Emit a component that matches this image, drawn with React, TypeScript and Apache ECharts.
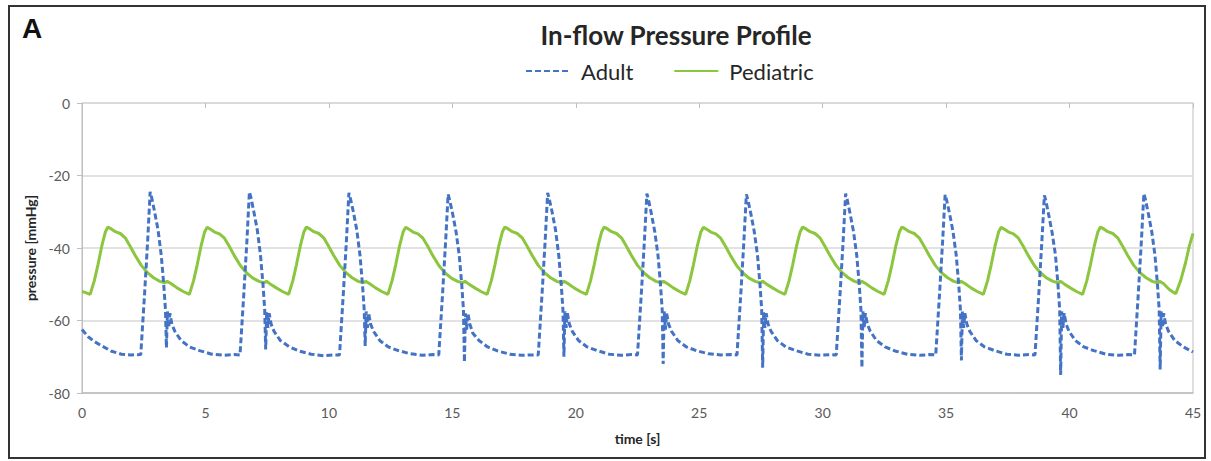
import React, { useEffect, useRef } from "react";
import * as echarts from "echarts";

const chartTitle = "In-flow Pressure Profile";
const panelLabel = "A";
const seriesNames = ["Adult", "Pediatric"];
const xAxisName = "time [s]";
const yAxisName = "pressure [mmHg]";
const xRange = [0, 45];
const yRange = [-80, 0];

// Adult in-flow pressure [time s, pressure mmHg]
const adultData: [number, number][] = [
  [0, -62.5], [0.25, -64.5], [0.5, -65.8], [0.8, -67], [1.2, -68.5], [1.6, -69.3], [2.0, -69.5], [2.38, -69.4],
  [2.54, -52], [2.66, -38], [2.76, -24.5], [2.82, -26], [2.94, -30], [3.08, -35], [3.21, -42], [3.31, -50], [3.38, -57], [3.42, -67.5], [3.46, -57.5], [3.51, -62], [3.56, -58], [3.64, -61], [3.76, -63], [4.01, -65.5], [4.36, -67.3], [4.76, -68.3], [5.26, -69.3], [5.76, -69.6], [6.16, -69.4], [6.40, -69.5],
  [6.56, -52], [6.68, -38], [6.78, -24.5], [6.84, -26], [6.96, -30], [7.10, -35], [7.23, -42], [7.33, -50], [7.40, -57], [7.44, -68], [7.48, -57.5], [7.53, -62], [7.58, -58], [7.66, -61], [7.78, -63], [8.03, -65.5], [8.38, -67.2], [8.78, -68.4], [9.28, -69.3], [9.78, -69.7], [10.18, -69.5], [10.43, -69.5],
  [10.59, -52], [10.71, -38], [10.81, -24.8], [10.87, -26.3], [10.99, -30], [11.13, -35], [11.26, -42], [11.36, -50], [11.43, -57], [11.47, -67], [11.51, -57.5], [11.56, -62], [11.61, -58], [11.69, -61], [11.81, -63], [12.06, -65.5], [12.41, -67.3], [12.81, -68.3], [13.31, -69.2], [13.81, -69.6], [14.21, -69.4], [14.45, -69.5],
  [14.61, -52], [14.73, -38], [14.83, -25.2], [14.89, -26.7], [15.01, -30.5], [15.15, -35.5], [15.28, -42], [15.38, -50], [15.45, -57], [15.49, -71.5], [15.53, -58], [15.58, -62.5], [15.63, -58], [15.71, -61], [15.83, -63.5], [16.08, -65.5], [16.43, -67.3], [16.83, -68.4], [17.33, -69.3], [17.83, -69.6], [18.23, -69.5], [18.48, -69.5],
  [18.64, -52], [18.76, -38], [18.86, -24.8], [18.92, -26.3], [19.04, -30], [19.18, -35], [19.31, -42], [19.41, -50], [19.48, -57], [19.52, -70], [19.56, -57.5], [19.61, -62], [19.66, -58], [19.74, -61], [19.86, -63], [20.11, -65.5], [20.46, -67.3], [20.86, -68.3], [21.36, -69.3], [21.86, -69.6], [22.26, -69.4], [22.50, -69.5],
  [22.66, -52], [22.78, -38], [22.88, -25], [22.94, -26.5], [23.06, -30.5], [23.20, -35.5], [23.33, -42], [23.43, -50], [23.50, -57], [23.54, -72], [23.58, -57.5], [23.63, -62.5], [23.68, -58], [23.76, -61], [23.88, -63], [24.13, -65.5], [24.48, -67.3], [24.88, -68.3], [25.38, -69.2], [25.88, -69.5], [26.28, -69.4], [26.53, -69.5],
  [26.69, -52], [26.81, -38], [26.91, -25.2], [26.97, -26.7], [27.09, -30.5], [27.23, -35.5], [27.36, -42], [27.46, -50], [27.53, -57], [27.57, -73], [27.61, -57.5], [27.66, -62], [27.71, -58], [27.79, -61], [27.91, -63], [28.16, -65.5], [28.51, -67.3], [28.91, -68.3], [29.41, -69.3], [29.91, -69.6], [30.31, -69.4], [30.55, -69.5],
  [30.71, -52], [30.83, -38], [30.93, -25], [30.99, -26.5], [31.11, -30.5], [31.25, -35.5], [31.38, -42], [31.48, -50], [31.55, -57], [31.59, -73], [31.63, -57.5], [31.68, -62], [31.73, -58], [31.81, -61], [31.93, -63], [32.18, -65.5], [32.53, -67.3], [32.93, -68.4], [33.43, -69.3], [33.93, -69.6], [34.33, -69.4], [34.58, -69.5],
  [34.74, -52], [34.86, -38], [34.96, -25.3], [35.02, -26.8], [35.14, -30.5], [35.28, -35.5], [35.41, -42], [35.51, -50], [35.58, -57], [35.62, -71], [35.66, -57.5], [35.71, -62], [35.76, -58], [35.84, -61], [35.96, -63], [36.21, -65.5], [36.56, -67.3], [36.96, -68.3], [37.46, -69.3], [37.96, -69.6], [38.36, -69.4], [38.60, -69.5],
  [38.76, -52], [38.88, -38], [38.98, -25.5], [39.04, -27], [39.16, -31], [39.30, -36], [39.43, -42], [39.53, -50], [39.60, -57], [39.64, -75], [39.68, -57.5], [39.73, -62], [39.78, -58], [39.86, -61], [39.98, -63], [40.23, -65.5], [40.58, -67.3], [40.98, -68.3], [41.48, -69.3], [41.98, -69.6], [42.38, -69.4], [42.63, -69.5],
  [42.79, -52], [42.91, -38], [43.01, -25], [43.07, -26.5], [43.19, -30.5], [43.33, -35.5], [43.46, -42], [43.56, -50], [43.63, -57], [43.67, -73.5], [43.71, -57.5], [43.76, -62], [43.81, -58], [43.89, -61], [44.01, -63], [44.26, -65.5], [44.61, -67.3], [45.0, -68.7],
];

// Pediatric in-flow pressure [time s, pressure mmHg]
const pediatricData: [number, number][] = [
  [0, -52], [0.15, -52.3],
  [0.33, -52.8], [0.5, -49], [0.65, -44.5], [0.8, -39.5], [0.95, -35.5], [1.05, -34.2], [1.2, -34.8], [1.35, -35.5], [1.55, -36], [1.75, -37.2], [1.95, -39.5], [2.15, -42], [2.4, -44.8], [2.65, -46.8], [2.9, -48.2], [3.15, -49.2], [3.35, -49.6], [3.45, -49.2], [3.6, -49.8], [3.85, -51], [4.1, -52],
  [4.35, -52.8], [4.52, -49], [4.67, -44.5], [4.82, -39.5], [4.97, -35.5], [5.07, -34.3], [5.22, -34.9], [5.37, -35.6], [5.57, -36.1], [5.77, -37.3], [5.97, -39.6], [6.17, -42.1], [6.42, -44.9], [6.67, -46.9], [6.92, -48.3], [7.17, -49.2], [7.37, -49.6], [7.47, -49.2], [7.62, -49.9], [7.87, -51], [8.12, -52],
  [8.37, -52.8], [8.54, -49], [8.69, -44.5], [8.84, -39.5], [8.99, -35.5], [9.09, -34.2], [9.24, -34.8], [9.39, -35.5], [9.59, -36], [9.79, -37.2], [9.99, -39.5], [10.19, -42], [10.44, -44.8], [10.69, -46.8], [10.94, -48.2], [11.19, -49.2], [11.39, -49.6], [11.49, -49.2], [11.64, -49.8], [11.89, -51], [12.14, -52],
  [12.39, -52.8], [12.56, -49], [12.71, -44.5], [12.86, -39.5], [13.01, -35.5], [13.11, -34.3], [13.26, -34.9], [13.41, -35.6], [13.61, -36.1], [13.81, -37.3], [14.01, -39.6], [14.21, -42.1], [14.46, -44.9], [14.71, -46.9], [14.96, -48.3], [15.21, -49.2], [15.41, -49.6], [15.51, -49.2], [15.66, -49.9], [15.91, -51], [16.16, -52],
  [16.41, -52.8], [16.58, -49], [16.73, -44.5], [16.88, -39.5], [17.03, -35.5], [17.13, -34.2], [17.28, -34.8], [17.43, -35.5], [17.63, -36], [17.83, -37.2], [18.03, -39.5], [18.23, -42], [18.48, -44.8], [18.73, -46.8], [18.98, -48.2], [19.23, -49.2], [19.43, -49.6], [19.53, -49.2], [19.68, -49.8], [19.93, -51], [20.18, -52],
  [20.43, -52.8], [20.6, -49], [20.75, -44.5], [20.9, -39.5], [21.05, -35.5], [21.15, -34.2], [21.3, -34.8], [21.45, -35.5], [21.65, -36], [21.85, -37.2], [22.05, -39.5], [22.25, -42], [22.5, -44.8], [22.75, -46.8], [23.0, -48.2], [23.25, -49.2], [23.45, -49.6], [23.55, -49.2], [23.7, -49.8], [23.95, -51], [24.2, -52],
  [24.45, -52.8], [24.62, -49], [24.77, -44.5], [24.92, -39.5], [25.07, -35.5], [25.17, -34.3], [25.32, -34.9], [25.47, -35.6], [25.67, -36.1], [25.87, -37.3], [26.07, -39.6], [26.27, -42.1], [26.52, -44.9], [26.77, -46.9], [27.02, -48.3], [27.27, -49.2], [27.47, -49.6], [27.57, -49.2], [27.72, -49.9], [27.97, -51], [28.22, -52],
  [28.47, -52.8], [28.64, -49], [28.79, -44.5], [28.94, -39.5], [29.09, -35.5], [29.19, -34.2], [29.34, -34.8], [29.49, -35.5], [29.69, -36], [29.89, -37.2], [30.09, -39.5], [30.29, -42], [30.54, -44.8], [30.79, -46.8], [31.04, -48.2], [31.29, -49.2], [31.49, -49.6], [31.59, -49.2], [31.74, -49.8], [31.99, -51], [32.24, -52],
  [32.49, -52.8], [32.66, -49], [32.81, -44.5], [32.96, -39.5], [33.11, -35.5], [33.21, -34.2], [33.36, -34.8], [33.51, -35.5], [33.71, -36], [33.91, -37.2], [34.11, -39.5], [34.31, -42], [34.56, -44.8], [34.81, -46.8], [35.06, -48.2], [35.31, -49.2], [35.51, -49.6], [35.61, -49.2], [35.76, -49.8], [36.01, -51], [36.26, -52],
  [36.51, -52.8], [36.68, -49], [36.83, -44.5], [36.98, -39.5], [37.13, -35.5], [37.23, -34.3], [37.38, -34.9], [37.53, -35.6], [37.73, -36.1], [37.93, -37.3], [38.13, -39.6], [38.33, -42.1], [38.58, -44.9], [38.83, -46.9], [39.08, -48.3], [39.33, -49.2], [39.53, -49.6], [39.63, -49.2], [39.78, -49.9], [40.03, -51], [40.28, -52],
  [40.53, -52.8], [40.7, -49], [40.85, -44.5], [41.0, -39.5], [41.15, -35.5], [41.25, -34.2], [41.4, -34.8], [41.55, -35.5], [41.75, -36], [41.95, -37.2], [42.15, -39.5], [42.35, -42], [42.6, -44.8], [42.85, -46.8], [43.1, -48.2], [43.35, -49.2], [43.55, -49.6], [43.65, -49.2], [43.8, -49.8], [44.05, -51.5], [44.3, -52.6],
  [44.5, -49], [44.7, -44], [44.85, -39.5], [45.0, -36],
];

const FONT = "Lato, 'Open Sans', sans-serif";

export default function App() {
  const ref = useRef<HTMLDivElement>(null);

  useEffect(() => {
    document.body.style.margin = "0";
    if (!ref.current) return;
    const chart = echarts.init(ref.current, null, { renderer: "svg" });
    const axisGray = "#BFBFBF";
    const gridGray = "#D9D9D9";
    const labelGray = "#595959";
    chart.setOption({
      animation: false,
      backgroundColor: "#ffffff",
      title: {
        text: chartTitle,
        left: 671,
        top: 17,
        textAlign: "center",
        textStyle: { fontFamily: FONT, fontWeight: "bold", fontSize: 26, color: "#262626" },
      },
      legend: {
        data: seriesNames,
        left: 520,
        top: 55,
        itemWidth: 44,
        itemHeight: 16,
        itemGap: 40,
        itemStyle: { opacity: 0 },
        textStyle: { fontFamily: FONT, fontSize: 22, color: "#262626", padding: [0, 0, 0, 6] },
      },
      grid: {
        left: 82,
        right: 18,
        top: 103,
        bottom: 68,
        show: true,
        borderColor: axisGray,
        borderWidth: 1,
        backgroundColor: "transparent",
      },
      xAxis: [
        {
          type: "value",
          min: xRange[0],
          max: xRange[1],
          interval: 5,
          name: xAxisName,
          nameLocation: "middle",
          nameGap: 38,
          nameTextStyle: { fontFamily: FONT, fontWeight: "bold", fontSize: 14, color: "#262626" },
          axisLine: { show: true, onZero: false, lineStyle: { color: axisGray, width: 1.5 } },
          axisTick: { show: false },
          splitLine: { show: false },
          axisLabel: { fontFamily: FONT, fontSize: 14, color: labelGray, margin: 12 },
        },
        {
          type: "value",
          position: "top",
          min: xRange[0],
          max: xRange[1],
          interval: 5,
          axisLine: { show: false },
          axisTick: { show: true, inside: true, length: 5, lineStyle: { color: axisGray } },
          axisLabel: { show: false },
          splitLine: { show: false },
        },
      ],
      yAxis: {
        type: "value",
        min: yRange[0],
        max: yRange[1],
        interval: 20,
        name: yAxisName,
        nameLocation: "middle",
        nameGap: 42,
        nameRotate: 90,
        nameTextStyle: { fontFamily: FONT, fontWeight: "bold", fontSize: 14, color: "#262626" },
        axisLine: { show: true, onZero: false, lineStyle: { color: axisGray } },
        axisTick: { show: true, length: 5, lineStyle: { color: axisGray } },
        splitLine: { show: true, lineStyle: { color: gridGray, width: 1.5 } },
        axisLabel: { fontFamily: FONT, fontSize: 14, color: labelGray, margin: 12 },
      },
      series: [
        {
          name: seriesNames[0],
          type: "line",
          data: adultData,
          symbol: "none",
          z: 3,
          lineStyle: { color: "#4472C4", width: 3, type: [6, 3] },
          itemStyle: { color: "#4472C4" },
        },
        {
          name: seriesNames[1],
          type: "line",
          data: pediatricData,
          symbol: "none",
          z: 2,
          lineStyle: { color: "#8CC63F", width: 3 },
          itemStyle: { color: "#8CC63F" },
        },
      ],
      graphic: [
        {
          type: "rect",
          shape: { x: 9, y: 6, width: 1196, height: 452 },
          style: { fill: "none", stroke: "#333333", lineWidth: 2 },
          silent: true,
        },
        {
          type: "text",
          left: 22,
          top: 14,
          style: { text: panelLabel, font: "bold 28px 'Liberation Sans', Arial, sans-serif", fill: "#111111" },
        },
      ],
    });
    return () => chart.dispose();
  }, []);

  return <div ref={ref} style={{ position: "fixed", left: 0, top: 0, width: 1211, height: 461 }} />;
}
